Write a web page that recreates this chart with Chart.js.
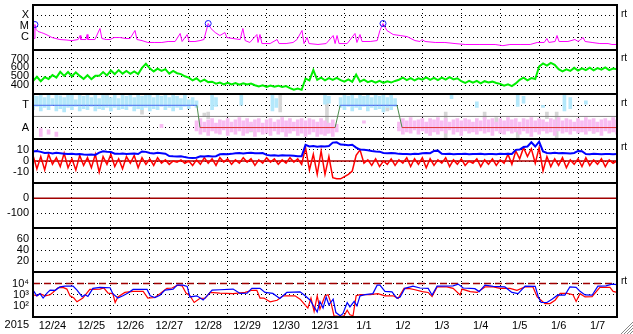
<!DOCTYPE html>
<html lang="en">
<head>
    <meta charset="UTF-8">
    <title>Space weather summary 2015-12-24 to 2016-01-07</title>
    <script src="https://cdn.jsdelivr.net/npm/chart.js@4"></script>
    <style>
        body { margin: 0; background: #fff; }
    </style>
</head>
<body>
    <canvas id="summaryChart" width="633" height="334"></canvas>

    <script>
        // time axis: days since 2015-12-24 00:00 UT, day labels sit at noon
        const dayLabels = ['12/24', '12/25', '12/26', '12/27', '12/28', '12/29', '12/30', '12/31',
                           '1/1', '1/2', '1/3', '1/4', '1/5', '1/6', '1/7'];
        const yearLabel = '2015';

        // tick values / labels per panel
        const xrayTicks = [1e-6, 1e-5, 1e-4];
        const xrayTickLabels = ['C', 'M', 'X'];
        const speedTicks = [400, 500, 600, 700];
        const sectorTicks = [-1, 1];
        const sectorTickLabels = ['A', 'T'];
        const imfTicks = [-10, 0, 10];
        const dstTicks = [-100, 0];
        const auxTicks = [20, 40, 60];
        const electronTicks = [1e2, 1e3, 1e4];
        const electronTickLabels = ['10\u00b2', '10\u00b3', '10\u2074'];

        // GOES X-ray flux [day, W/m2]
        const xrayFlux = [
            [0.00, 6.5e-7], [0.03, 8.0e-7], [0.05, 1.5e-5], [0.08, 5.3e-6], [0.13, 3.5e-6], [0.21, 2.8e-6],
            [0.28, 2.3e-6], [0.39, 1.5e-6], [0.49, 9.8e-7], [0.59, 8.0e-7], [0.69, 6.5e-7], [0.85, 5.9e-7],
            [1.00, 5.2e-7], [1.16, 6.5e-7], [1.21, 1.5e-6], [1.23, 6.5e-7], [1.36, 6.5e-7], [1.39, 1.85e-6],
            [1.41, 6.5e-7], [1.59, 6.5e-7], [1.72, 6.5e-6], [1.77, 8.0e-7], [1.88, 6.5e-7], [1.98, 6.5e-7],
            [2.08, 9.8e-7], [2.23, 9.8e-7], [2.39, 8.0e-7], [2.49, 8.0e-7], [2.62, 4.3e-6], [2.67, 6.5e-7],
            [2.80, 5.2e-7], [2.95, 3.5e-7], [3.13, 3.5e-7], [3.31, 3.5e-7], [3.47, 4.3e-7], [3.65, 4.3e-7],
            [3.78, 2.3e-6], [3.83, 4.3e-7], [3.96, 1.85e-6], [4.01, 4.3e-7], [4.16, 4.3e-7], [4.29, 5.2e-7],
            [4.39, 6.5e-7], [4.50, 1.85e-5], [4.57, 6.5e-6], [4.68, 2.8e-6], [4.80, 1.5e-6], [4.93, 2.8e-6],
            [4.98, 9.8e-7], [5.14, 8.0e-7], [5.32, 6.5e-7], [5.39, 6.5e-6], [5.45, 5.2e-7], [5.57, 3.5e-7],
            [5.75, 1.85e-6], [5.78, 3.5e-7], [5.83, 1.85e-6], [5.88, 2.8e-7], [6.09, 2.8e-7], [6.27, 6.5e-7],
            [6.32, 2.8e-7], [6.50, 2.8e-7], [6.68, 3.5e-7], [6.78, 6.5e-7], [6.91, 4.3e-6], [6.96, 2.8e-7],
            [7.04, 9.8e-7], [7.09, 2.8e-7], [7.32, 2.3e-7], [7.53, 2.8e-7], [7.71, 1.5e-6], [7.76, 2.8e-7],
            [7.81, 1.5e-6], [7.86, 2.8e-7], [8.07, 2.8e-7], [8.27, 2.3e-6], [8.32, 3.5e-7], [8.40, 1.85e-6],
            [8.45, 4.3e-7], [8.66, 4.3e-7], [8.84, 5.2e-7], [8.91, 4.3e-6], [8.99, 1.85e-5], [9.09, 4.3e-6],
            [9.25, 1.85e-6], [9.43, 1.5e-6], [9.61, 1.2e-6], [9.81, 5.2e-7], [9.94, 4.3e-7], [9.99, 6.5e-7],
            [10.07, 4.3e-7], [10.33, 3.5e-7], [10.58, 3.5e-7], [10.84, 2.8e-7], [11.10, 2.3e-7], [11.48, 2.3e-7],
            [11.87, 2.3e-7], [12.07, 1.8e-7], [12.25, 2.3e-7], [12.51, 2.3e-7], [12.77, 2.3e-7], [12.95, 3.5e-7],
            [13.13, 3.5e-7], [13.20, 8.0e-7], [13.25, 3.5e-7], [13.41, 4.3e-7], [13.46, 1.5e-6], [13.51, 4.3e-7],
            [13.74, 4.3e-7], [13.92, 6.5e-7], [14.00, 4.3e-7], [14.13, 9.8e-7], [14.18, 4.3e-7], [14.36, 3.5e-7],
            [14.56, 2.8e-7], [14.77, 2.8e-7], [14.87, 2.3e-7], [15.00, 2.3e-7]
        ];
        const flarePeaks = [[0.05, 1.5e-5], [4.50, 1.85e-5], [8.99, 1.85e-5]];

        // solar wind speed km/s, one value every 0.1 day
        const windSpeed = [
            448, 495, 445, 490, 470, 515, 485, 550, 505, 548,
            500, 545, 505, 470, 512, 468, 505, 505, 548, 510,
            565, 525, 570, 530, 560, 528, 555, 525, 595, 640,
            590, 555, 585, 560, 580, 530, 560, 535, 525, 500,
            485, 455, 478, 440, 462, 435, 440, 418, 430, 408,
            428, 410, 425, 405, 422, 408, 418, 400, 385, 398,
            382, 396, 384, 395, 380, 390, 368, 350, 362, 348,
            475, 455, 570, 460, 485, 455, 480, 460, 482, 458,
            440, 465, 438, 520, 440, 462, 435, 450, 428, 448,
            425, 445, 430, 448, 462, 485, 458, 480, 455, 478,
            462, 488, 460, 482, 458, 485, 462, 490, 465, 478,
            445, 425, 450, 428, 448, 420, 445, 430, 440, 425,
            415, 395, 410, 390, 420, 460, 485, 455, 480, 470,
            610, 645, 620, 650, 630, 580, 555, 578, 560, 595,
            565, 590, 570, 598, 568, 592, 575, 600, 570, 588,
            580
        ];

        // sector polarity: T = +1, A = -1
        const sectorSteps = [[0, 1], [4.21, 1], [4.29, -1], [7.76, -1], [7.89, 1], [9.35, 1], [9.48, -1], [15, -1]];
        // scatter of the sector samples, [day, low, high]
        const towardDots = [
            [0.0, 0.6, 1.9], [0.1, 0.9, 1.8], [0.2, 0.5, 1.95], [0.3, 0.8, 1.7], [0.4, 0.6, 1.9], [0.5, 1.0, 1.6],
            [0.6, 0.5, 1.9], [0.7, 0.7, 1.85], [0.8, 0.4, 1.7], [0.9, 0.8, 1.95], [1.0, 0.6, 1.9], [1.1, 0.9, 1.5],
            [1.2, 0.5, 1.9], [1.3, 0.7, 1.8], [1.4, 0.6, 1.95], [1.5, 0.9, 1.7], [1.6, 0.5, 1.9], [1.7, 0.7, 1.6],
            [1.8, 0.6, 1.9], [1.9, 0.8, 1.85], [2.0, 0.5, 1.7], [2.1, 0.8, 1.9], [2.2, 0.6, 1.6], [2.3, 0.7, 1.95],
            [2.4, 0.6, 1.8], [2.5, 0.9, 1.9], [2.6, 0.5, 1.7], [2.7, 0.7, 1.9], [2.8, 0.6, 1.8], [2.9, 0.8, 1.95],
            [3.0, 0.5, 1.9], [3.1, 0.7, 1.7], [3.2, 0.6, 1.9], [3.3, 0.9, 1.8], [3.4, 0.6, 1.95], [3.5, 0.8, 1.7],
            [3.6, 0.5, 1.9], [3.7, 0.8, 1.8], [3.8, 0.6, 1.6], [3.9, 0.9, 1.9], [4.0, 0.7, 1.5], [4.1, 1.0, 1.7],
            [4.2, 0.8, 1.4],
            [4.6, 0.6, 1.9], [4.7, 0.9, 1.7], [5.35, 1.0, 1.9], [6.15, 0.5, 1.9], [6.25, 0.8, 1.6], [7.5, 1.1, 1.9],
            [7.6, 1.2, 1.8],
            [7.9, 0.8, 1.7], [8.0, 0.6, 1.9], [8.1, 0.9, 1.8], [8.2, 0.5, 1.9], [8.3, 0.8, 1.6], [8.4, 0.6, 1.9],
            [8.5, 0.9, 1.8], [8.6, 0.5, 1.9], [8.7, 0.8, 1.7], [8.8, 0.6, 1.9], [8.9, 0.7, 1.8], [9.0, 0.4, 1.95],
            [9.1, 0.8, 1.7], [9.2, 0.6, 1.9], [9.3, 0.9, 1.6],
            [10.75, 1.6, 1.9], [11.4, 0.8, 1.3], [12.45, 0.9, 1.9], [12.6, 1.2, 1.8], [13.1, 0.8, 1.0],
            [13.65, 0.5, 1.9], [13.8, 0.7, 1.7], [14.2, 1.1, 1.4]
        ];
        const awayDots = [
            [0.2, -1.8, -1.1], [0.4, -1.6, -1.2], [0.6, -1.8, -1.4], [3.3, -1.0, -0.7],
            [4.2, -1.3, -0.4], [4.3, -1.6, -0.2], [4.4, -1.4, -0.5], [4.5, -1.7, -0.3], [4.6, -1.3, -0.2],
            [4.7, -1.5, -0.6], [4.8, -1.6, -0.3], [4.9, -1.2, -0.4], [5.0, -1.7, -0.2], [5.1, -1.4, -0.5],
            [5.2, -1.6, -0.3], [5.3, -1.3, -0.1], [5.4, -1.7, -0.4], [5.5, -1.5, -0.2], [5.6, -1.3, -0.5],
            [5.7, -1.8, -0.3], [5.8, -1.4, -0.2], [5.9, -1.6, -0.6], [6.0, -1.5, -0.3], [6.1, -1.7, -0.2],
            [6.2, -1.3, -0.5], [6.3, -1.6, -0.3], [6.4, -1.4, -0.1], [6.5, -1.8, -0.4], [6.6, -1.5, -0.2],
            [6.7, -1.3, -0.5], [6.8, -1.7, -0.3], [6.9, -1.5, -0.2], [7.0, -1.8, -0.4], [7.1, -1.6, -0.2],
            [7.2, -1.4, -0.3], [7.3, -1.8, -0.5], [7.4, -1.6, -0.2], [7.5, -1.7, -0.4], [7.6, -1.5, -0.6],
            [7.7, -1.8, -0.3], [7.8, -1.4, -0.7], [8.5, -0.6, -0.4],
            [9.4, -1.3, -0.5], [9.5, -1.6, -0.2], [9.6, -1.4, -0.4], [9.7, -1.5, -0.1], [9.8, -1.2, -0.4],
            [9.9, -1.6, -0.3], [10.0, -1.3, -0.2], [10.1, -1.5, -0.5], [10.2, -1.7, -0.2], [10.3, -1.4, -0.3],
            [10.4, -1.6, -0.1], [10.5, -1.3, -0.4], [10.6, -1.5, -0.2], [10.7, -1.2, -0.5], [10.8, -1.6, -0.3],
            [10.9, -1.4, -0.2], [11.0, -1.7, -0.4], [11.1, -1.3, -0.2], [11.2, -1.5, -0.3], [11.3, -1.4, -0.5],
            [11.4, -1.6, -0.2], [11.5, -1.3, -0.4], [11.6, -1.5, -0.1], [11.7, -1.4, -0.3], [11.8, -1.7, -0.2],
            [11.9, -1.3, -0.5], [12.0, -1.5, -0.2], [12.1, -1.6, -0.4], [12.2, -1.3, -0.1], [12.3, -1.5, -0.3],
            [12.4, -1.4, -0.2], [12.5, -1.6, -0.5], [12.6, -1.3, -0.2], [12.7, -1.5, -0.3], [12.8, -1.8, -0.1],
            [12.9, -1.4, -0.4], [13.0, -1.6, -0.2], [13.1, -1.3, -0.3], [13.2, -1.5, -0.5], [13.3, -1.4, -0.2],
            [13.4, -1.7, -0.3], [13.5, -1.3, -0.1], [13.6, -1.5, -0.4], [13.7, -1.4, -0.2], [13.8, -1.6, -0.3],
            [13.9, -1.3, -0.5], [14.0, -1.5, -0.2], [14.1, -1.4, -0.4], [14.2, -1.6, -0.1], [14.3, -1.3, -0.3],
            [14.4, -1.5, -0.2], [14.5, -1.4, -0.5], [14.6, -1.7, -0.3], [14.7, -1.3, -0.2], [14.8, -1.5, -0.4],
            [14.9, -1.4, -0.1], [15.0, -1.6, -0.3]
        ];
        const mixedDots = [
            [1.9, 1.2, 1.9], [2.8, 0.2, 0.6], [4.4, 0.0, 0.3], [4.5, -0.2, 0.4], [5.6, -1.4, -0.7],
            [6.35, 0.4, 1.9], [7.55, -1.5, 1.5], [9.1, 0.5, 0.8], [10.6, -1.9, 0.4], [11.6, -0.2, 0.4],
            [11.9, -0.7, -0.1], [12.45, -1.9, -1.3], [13.2, -0.2, 0.4], [13.45, -1.9, 0.4], [14.4, -1.5, -0.5]
        ];

        // IMF nT, one value every 0.1 day
        const imfBt = [
            8.5, 9.0, 8.2, 7.2, 7.5, 6.8, 7.3, 7.0, 6.6, 6.2,
            6.5, 6.0, 6.3, 5.9, 5.6, 5.9, 5.5, 7.5, 8.8, 8.3,
            8.0, 6.6, 6.4, 6.8, 6.2, 6.5, 6.7, 6.3, 8.6, 8.2,
            7.2, 6.8, 7.3, 7.0, 6.6, 4.5, 4.2, 4.0, 4.3, 3.5,
            2.8, 2.6, 3.0, 4.2, 4.0, 4.4, 4.1, 4.3, 6.0, 6.3,
            6.1, 6.4, 7.0, 7.2, 6.8, 7.1, 7.3, 6.9, 7.0, 7.2,
            5.5, 5.0, 5.2, 4.8, 5.1, 4.9, 5.0, 4.7, 4.3, 4.2,
            14.5, 13.0, 13.5, 12.8, 13.2, 13.0, 13.4, 16.5, 16.8, 14.8,
            14.5, 14.2, 14.6, 12.0, 10.2, 10.0, 9.6, 9.0, 8.6, 8.4,
            7.2, 7.0, 7.1, 6.9, 6.4, 6.2, 6.3, 6.1, 6.4, 6.2,
            7.0, 7.2, 7.0, 9.0, 9.3, 6.4, 6.2, 6.5, 6.1, 6.3,
            6.2, 6.4, 6.0, 6.3, 6.2, 6.5, 6.1, 6.3, 6.2, 6.0,
            6.4, 6.2, 6.5, 6.3, 10.0, 10.3, 12.5, 13.0, 16.8, 13.0,
            17.4, 8.6, 7.2, 7.0, 7.3, 6.9, 7.1, 7.0, 6.8, 7.2,
            9.0, 8.8, 6.3, 6.1, 6.4, 6.2, 6.0, 6.3, 6.2, 6.1,
            6.3
        ];
        const imfBz = [
            5, -7, 4, -8, 6, -3, 3, -5, 7, -6,
            2, -8, 5, -4, 3, -6, 6, -10, 4, -3,
            6, -5, 2, -7, 4, -2, 5, -6, 3, -3,
            2, -4, 3, -2, 1, -3, 0, -1, 1, -2,
            0, -4, 1, -3, 3, -2, 2, -4, 3, -1,
            2, -3, 1, -2, 3, -1, 2, -4, 1, -2,
            3, -1, 2, -3, 1, -2, 3, -1, 2, -3,
            12, -8, 6, -12, 9, -12, 4, -15, -16, -16,
            -14, -12, -9, 5, 10, -2, 1, -4, 2, -5,
            0, -3, 2, -4, 1, -2, 3, -5, 2, -3,
            3, -6, 2, -4, 1, -2, 3, -5, 1, -3,
            2, -4, 0, -2, 2, -5, 1, -3, 2, -4,
            1, -2, 6, -3, 9, 2, 12, 4, 11, -2,
            12, -9, 4, -5, 2, -4, 3, -6, 1, -3,
            2, -5, 3, -4, 1, -3, 2, -5, 1, -2,
            0
        ];

        // electron flux [day, value]
        const electronBlue = [
            [0.00, 2600], [0.10, 800], [0.18, 1250], [0.26, 500], [0.36, 1400], [0.44, 2600], [0.57, 2500],
            [0.69, 5000], [0.82, 5900], [1.03, 5900], [1.13, 2600], [1.26, 660], [1.34, 1000], [1.41, 700],
            [1.54, 3700], [1.72, 4500], [1.98, 4200], [2.05, 1250], [2.18, 500], [2.31, 800], [2.44, 1400],
            [2.57, 3000], [2.93, 3000], [3.01, 800], [3.13, 560], [3.26, 900], [3.39, 2600], [3.60, 3200],
            [3.70, 7200], [3.85, 7200], [3.96, 5600], [4.03, 630], [4.21, 800], [4.37, 330], [4.47, 800],
            [4.60, 2600], [4.80, 2800], [5.14, 3200], [5.32, 1300], [5.50, 1400], [5.62, 3700], [5.83, 3700],
            [5.96, 1600], [6.16, 1300], [6.34, 470], [6.52, 1600], [6.86, 1800], [6.99, 800], [7.12, 320],
            [7.22, 80], [7.30, 28], [7.37, 250], [7.45, 63], [7.53, 630], [7.60, 125], [7.71, 400], [7.78, 25],
            [7.89, 13], [7.96, 20], [8.07, 200], [8.14, 80], [8.25, 250], [8.32, 100], [8.40, 800], [8.53, 1000],
            [8.73, 1250], [8.84, 7200], [8.91, 7200], [9.04, 2000], [9.22, 1800], [9.35, 470], [9.43, 630],
            [9.55, 3700], [9.76, 5900], [9.94, 4000], [10.15, 3700], [10.25, 950], [10.38, 5900], [10.79, 6300],
            [10.92, 8900], [11.05, 4000], [11.35, 3500], [11.46, 1900], [11.61, 7200], [11.82, 5600],
            [12.12, 5000], [12.30, 1600], [12.46, 1250], [12.64, 5900], [12.90, 5600], [12.98, 630],
            [13.05, 200], [13.20, 200], [13.33, 400], [13.48, 950], [13.66, 900], [13.79, 5000], [13.95, 4500],
            [14.05, 2000], [14.18, 950], [14.36, 900], [14.51, 5900], [14.72, 6300], [14.87, 8900], [15.00, 7900]
        ];
        const electronRed = [
            [0.00, 1000], [0.10, 800], [0.18, 1250], [0.31, 800], [0.44, 1000], [0.51, 1600], [0.64, 4200],
            [0.77, 4500], [0.87, 3200], [0.95, 800], [1.05, 500], [1.13, 230], [1.28, 500], [1.46, 3000],
            [1.72, 3200], [1.82, 4000], [1.93, 1400], [2.05, 1250], [2.11, 200], [2.18, 630], [2.36, 1600],
            [2.57, 2000], [2.83, 2000], [2.95, 500], [3.13, 560], [3.26, 1250], [3.44, 3700], [3.57, 4000],
            [3.72, 7200], [3.83, 6300], [3.93, 1400], [4.03, 800], [4.14, 200], [4.29, 470], [4.42, 500],
            [4.55, 1600], [4.80, 1400], [5.14, 1250], [5.45, 1600], [5.62, 2500], [5.75, 2500], [5.83, 500],
            [5.93, 500], [6.09, 230], [6.27, 320], [6.42, 800], [6.73, 800], [6.86, 400], [6.96, 160],
            [7.06, 63], [7.14, 500], [7.22, 32], [7.30, 800], [7.37, 50], [7.50, 800], [7.58, 1000], [7.66, 160],
            [7.73, 13], [7.89, 11], [7.99, 13], [8.07, 40], [8.14, 16], [8.22, 13], [8.30, 800], [8.40, 1000],
            [8.66, 1000], [8.86, 1250], [9.04, 800], [9.25, 800], [9.38, 470], [9.53, 3700], [9.68, 3500],
            [9.81, 2800], [10.00, 1900], [10.15, 1600], [10.25, 680], [10.38, 5000], [10.63, 5000],
            [10.79, 3700], [10.97, 950], [11.02, 3200], [11.23, 1900], [11.41, 1600], [11.61, 5000],
            [11.82, 5000], [12.00, 3700], [12.25, 3700], [12.43, 2500], [12.64, 5000], [12.84, 5000],
            [12.95, 630], [13.05, 320], [13.15, 160], [13.28, 160], [13.41, 320], [13.54, 1300], [13.72, 1300],
            [13.87, 1000], [13.95, 250], [14.05, 1250], [14.18, 630], [14.36, 680], [14.56, 4500],
            [14.82, 4500], [14.90, 2000], [15.00, 1600]
        ];
        const electronAlert = 1e4;

        // panels from bottom to top (Chart.js stacks left axes in reverse order)
        const panelOrder = ['yElec', 'yAux', 'yDst', 'yImf', 'yPol', 'yWind', 'yXray'];
        const rtPanels = ['yXray', 'yWind', 'yPol', 'yImf', 'yElec'];

        const tickFont = { family: '"Liberation Sans", Arial, sans-serif', size: 11 };
        const halfDays = Array.from({ length: 31 }, (_, i) => i / 2);

        const toPoints = arr => arr.map(([x, y]) => ({ x, y }));
        const sampled = arr => arr.map((y, i) => ({ x: i / 10, y }));
        const toRanges = arr => arr.map(([x, lo, hi]) => ({ x, y: [lo, hi] }));
        const flat = v => [{ x: 0, y: v }, { x: 15, y: v }];

        function panelAxis(type, min, max, values, labels) {
            return {
                type, min, max,
                position: 'left', stack: 'panels', stackWeight: 1, offset: false,
                border: { display: false, dash: [1, 3] },
                grid: { color: '#000', drawTicks: false },
                ticks: {
                    color: '#000', font: tickFont, padding: 4, autoSkip: false,
                    callback: (v, i) => labels ? labels[i] : String(v)
                },
                afterBuildTicks: s => { s.ticks = values.map(v => ({ value: v })); },
                afterFit: s => { s.width = 33; s.paddingTop = 0; s.paddingBottom = 0; }
            };
        }

        function lineSet(axis, data, color, width, extra) {
            return Object.assign({
                type: 'line', yAxisID: axis, data: data,
                borderColor: color, borderWidth: width, pointRadius: 0, fill: false
            }, extra || {});
        }

        function dotSet(data, color, order) {
            return {
                type: 'bar', yAxisID: 'yPol', data: toRanges(data),
                backgroundColor: color, borderWidth: 0, barThickness: 3, grouped: false, order: order
            };
        }

        // frame, panel separators and the small marks round the plot
        const panelFrame = {
            id: 'panelFrame',
            afterDatasetsDraw(chart) {
                const { ctx, chartArea: area, scales } = chart;
                ctx.save();
                ctx.strokeStyle = '#000';
                ctx.lineWidth = 2;
                ctx.beginPath();
                panelOrder.slice(1).forEach(id => {
                    const y = Math.round(scales[id].bottom);
                    ctx.moveTo(area.left, y);
                    ctx.lineTo(area.right, y);
                });
                ctx.rect(area.left, area.top, area.right - area.left, area.bottom - area.top);
                ctx.stroke();

                ctx.fillStyle = '#000';
                ctx.font = '10px "Liberation Sans", Arial, sans-serif';
                ctx.textBaseline = 'middle';
                ctx.textAlign = 'left';
                rtPanels.forEach(id => ctx.fillText('rt', area.right + 4, scales[id].top + 9));

                ctx.font = '11px "Liberation Sans", Arial, sans-serif';
                ctx.textAlign = 'right';
                ctx.fillText(yearLabel, area.left - 4, area.bottom + 8);

                ctx.strokeStyle = '#888';
                ctx.lineWidth = 1;
                ctx.beginPath();
                for (let k = 0; k < 4; k++) {
                    ctx.moveTo(area.right + 4 + k * 3, 334);
                    ctx.lineTo(633, 334 - (12 - k * 3));
                }
                ctx.stroke();
                ctx.restore();
            }
        };

        const ctx = document.getElementById('summaryChart').getContext('2d');
        const summaryChart = new Chart(ctx, {
            type: 'line',
            data: {
                datasets: [
                    // X-ray panel
                    lineSet('yXray', toPoints(flarePeaks), '#1515ff', 1, {
                        showLine: false, pointRadius: 3, pointBorderColor: '#1515ff',
                        pointBackgroundColor: 'rgba(0,0,0,0)', pointBorderWidth: 1, order: 0
                    }),
                    lineSet('yXray', toPoints(xrayFlux), '#ff00ff', 1, { order: 1 }),
                    // solar wind speed
                    lineSet('yWind', sampled(windSpeed), '#00ee00', 2, { order: 1 }),
                    // sector polarity
                    lineSet('yPol', toPoints(sectorSteps), '#4a6af0', 1, {
                        order: 0,
                        segment: {
                            borderColor: c => c.p0.parsed.y !== c.p1.parsed.y ? '#4a8a4a'
                                : (c.p0.parsed.y > 0 ? '#4a6af0' : '#e03030')
                        }
                    }),
                    lineSet('yPol', flat(0), '#808080', 1, { order: 1 }),
                    dotSet(towardDots, '#b4e8fb', 2),
                    dotSet(awayDots, '#f8bcf2', 2),
                    dotSet(mixedDots, '#d6d6d6', 3),
                    // IMF
                    lineSet('yImf', sampled(imfBt), '#0000ff', 2, { order: 0 }),
                    lineSet('yImf', sampled(imfBz), '#ff0000', 1.5, { order: 1 }),
                    lineSet('yImf', flat(0), '#b00000', 1.5, { order: 2 }),
                    // Dst
                    lineSet('yDst', flat(0), '#a00000', 1.5, { order: 1 }),
                    // electrons
                    lineSet('yElec', toPoints(electronBlue), '#0000ff', 1.2, { order: 0 }),
                    lineSet('yElec', toPoints(electronRed), '#ff0000', 1.2, { order: 1 }),
                    lineSet('yElec', flat(electronAlert), '#a00000', 1.5, { order: 2, borderDash: [7, 4] })
                ]
            },
            options: {
                responsive: false,
                animation: false,
                events: [],
                layout: { padding: { top: 2.5, right: 16, left: 0, bottom: 0 } },
                elements: { line: { tension: 0 } },
                plugins: { legend: { display: false }, tooltip: { enabled: false } },
                scales: {
                    x: {
                        type: 'linear', min: 0, max: 15, position: 'bottom', offset: false,
                        border: { display: false, dash: [1, 3] },
                        grid: {
                            offset: false, drawTicks: false,
                            color: c => Number.isInteger(c.tick.value) ? '#000' : 'rgba(0,0,0,0)'
                        },
                        ticks: {
                            color: '#000', font: tickFont, padding: 2, autoSkip: false, maxRotation: 0,
                            callback: v => Number.isInteger(v) ? '' : dayLabels[Math.floor(v)]
                        },
                        afterBuildTicks: s => { s.ticks = halfDays.map(v => ({ value: v })); },
                        afterFit: s => { s.height = 17; s.paddingLeft = 0; s.paddingRight = 0; }
                    },
                    yElec: panelAxis('logarithmic', 10, 1e5, electronTicks, electronTickLabels),
                    yAux: panelAxis('linear', 0, 80, auxTicks),
                    yDst: panelAxis('linear', -200, 100, dstTicks),
                    yImf: panelAxis('linear', -20, 20, imfTicks),
                    yPol: panelAxis('linear', -2, 2, sectorTicks, sectorTickLabels),
                    yWind: panelAxis('linear', 300, 800, speedTicks),
                    yXray: panelAxis('logarithmic', Math.pow(10, -7.1), Math.pow(10, -3.05), xrayTicks, xrayTickLabels)
                }
            },
            plugins: [panelFrame]
        });
    </script>
</body>
</html>
